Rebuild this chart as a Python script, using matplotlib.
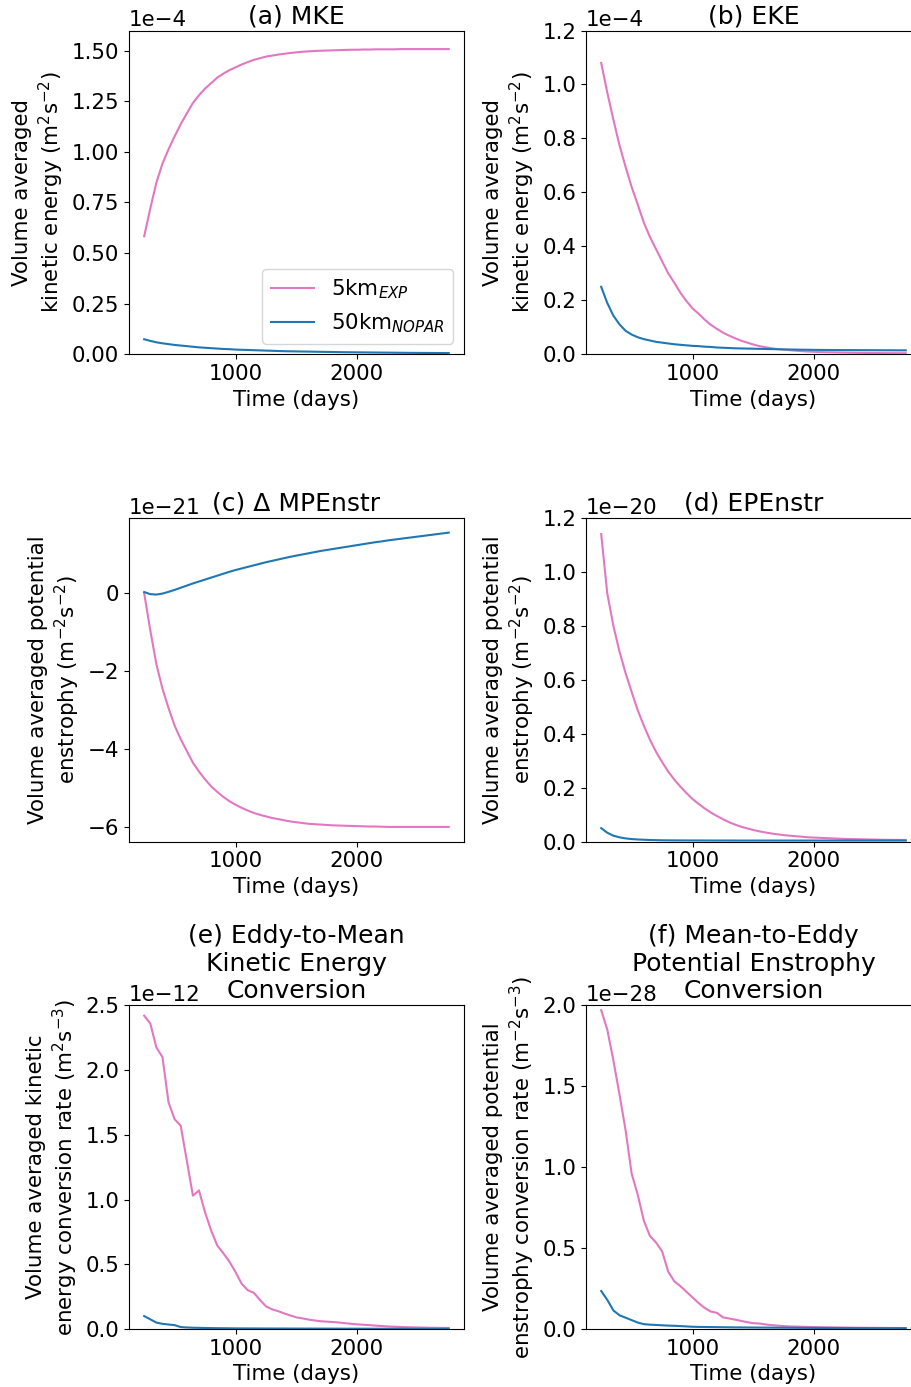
import matplotlib
matplotlib.use("Agg")
import matplotlib.pyplot as plt
import numpy as np

plt.rcParams['font.size'] = 15.4
plt.rcParams['axes.titlesize'] = 18

# model output times (days)
time = np.linspace(240, 2760, 51)

# (a) mean kinetic energy, 1e-4 m2 s-2
mke_5km = [0.583, 0.72, 0.848, 0.942, 1.013, 1.077, 1.137, 1.19, 1.242, 1.28,
           1.313, 1.34, 1.367, 1.387, 1.404, 1.418, 1.432, 1.444, 1.455, 1.463,
           1.471, 1.476, 1.481, 1.485, 1.489, 1.492, 1.495, 1.497, 1.499, 1.50,
           1.501, 1.502, 1.503, 1.504, 1.505, 1.505, 1.506, 1.506, 1.507, 1.507,
           1.507, 1.507, 1.508, 1.508, 1.508, 1.508, 1.508, 1.508, 1.508, 1.508,
           1.508]
mke_50km = [0.074, 0.066, 0.059, 0.054, 0.050, 0.046, 0.043, 0.040, 0.037, 0.034,
            0.032, 0.030, 0.028, 0.026, 0.025, 0.023, 0.022, 0.021, 0.020, 0.019,
            0.018, 0.017, 0.016, 0.015, 0.0145, 0.014, 0.0135, 0.013, 0.0125, 0.012,
            0.0115, 0.011, 0.0105, 0.010, 0.0097, 0.0094, 0.0091, 0.0088, 0.0085, 0.0082,
            0.0079, 0.0076, 0.0073, 0.0070, 0.0068, 0.0066, 0.0064, 0.0062, 0.0060, 0.0058,
            0.0056]

# (b) eddy kinetic energy, 1e-4 m2 s-2
eke_5km = [1.08, 0.97, 0.87, 0.775, 0.695, 0.62, 0.555, 0.488, 0.435, 0.39,
           0.345, 0.30, 0.265, 0.228, 0.197, 0.17, 0.15, 0.128, 0.109, 0.094,
           0.080, 0.069, 0.059, 0.050, 0.043, 0.036, 0.030, 0.026, 0.022, 0.019,
           0.017, 0.015, 0.013, 0.0115, 0.010, 0.009, 0.008, 0.0075, 0.007, 0.0065,
           0.006, 0.0056, 0.0052, 0.0049, 0.0046, 0.0044, 0.0042, 0.0040, 0.0039, 0.0038,
           0.0037]
eke_50km = [0.25, 0.19, 0.143, 0.111, 0.087, 0.073, 0.063, 0.056, 0.051, 0.046,
            0.043, 0.040, 0.037, 0.035, 0.033, 0.031, 0.030, 0.028, 0.027, 0.025,
            0.024, 0.023, 0.022, 0.0215, 0.021, 0.0205, 0.020, 0.0195, 0.019, 0.0185,
            0.018, 0.0176, 0.0172, 0.0168, 0.0165, 0.0162, 0.016, 0.0158, 0.0156, 0.0155,
            0.0154, 0.0153, 0.0152, 0.0151, 0.0150, 0.0149, 0.0148, 0.0147, 0.0146, 0.0145,
            0.0145]

# (c) change in mean potential enstrophy, 1e-21 m-2 s-2
dmpe_5km = [0.0, -0.95, -1.82, -2.45, -2.95, -3.40, -3.75, -4.05, -4.35, -4.58,
            -4.78, -4.96, -5.10, -5.23, -5.34, -5.43, -5.51, -5.58, -5.64, -5.69,
            -5.73, -5.77, -5.80, -5.83, -5.86, -5.88, -5.90, -5.92, -5.93, -5.94,
            -5.95, -5.96, -5.965, -5.97, -5.975, -5.98, -5.985, -5.99, -5.99, -5.995,
            -6.0, -6.0, -6.0, -6.0, -6.0, -6.0, -6.0, -6.0, -6.0, -6.0,
            -6.0]
dmpe_50km = [0.03, -0.025, -0.035, -0.01, 0.035, 0.085, 0.14, 0.195, 0.25, 0.30,
             0.35, 0.40, 0.45, 0.50, 0.55, 0.595, 0.635, 0.675, 0.715, 0.755,
             0.795, 0.83, 0.865, 0.90, 0.935, 0.965, 0.995, 1.025, 1.055, 1.085,
             1.11, 1.135, 1.16, 1.185, 1.21, 1.235, 1.26, 1.285, 1.31, 1.33,
             1.355, 1.375, 1.395, 1.415, 1.435, 1.455, 1.475, 1.495, 1.515, 1.535,
             1.555]

# (d) eddy potential enstrophy, 1e-20 m-2 s-2
epe_5km = [1.14, 0.92, 0.80, 0.705, 0.625, 0.555, 0.487, 0.43, 0.378, 0.333,
           0.295, 0.260, 0.230, 0.204, 0.180, 0.158, 0.140, 0.123, 0.108, 0.095,
           0.083, 0.072, 0.063, 0.055, 0.049, 0.043, 0.038, 0.034, 0.030, 0.027,
           0.024, 0.022, 0.020, 0.018, 0.016, 0.015, 0.014, 0.013, 0.012, 0.011,
           0.010, 0.0095, 0.009, 0.0085, 0.008, 0.0075, 0.007, 0.0068, 0.0065, 0.0062,
           0.006]
epe_50km = [0.05, 0.033, 0.022, 0.016, 0.012, 0.0095, 0.008, 0.007, 0.006, 0.0055,
            0.005, 0.0048, 0.0046, 0.0045, 0.0044, 0.0043, 0.0043, 0.0042, 0.0042, 0.0041,
            0.0041, 0.0041, 0.0040, 0.0040, 0.0040, 0.0040, 0.0040, 0.0040, 0.0040, 0.0040,
            0.0040, 0.0040, 0.0040, 0.0040, 0.0040, 0.0040, 0.0040, 0.0040, 0.0040, 0.0040,
            0.0040, 0.0040, 0.0040, 0.0040, 0.0040, 0.0040, 0.0040, 0.0040, 0.0040, 0.0040,
            0.0040]

# (e) eddy-to-mean KE conversion, 1e-12 m2 s-3
ke_conv_5km = [2.42, 2.36, 2.175, 2.10, 1.75, 1.62, 1.57, 1.30, 1.03, 1.07,
               0.90, 0.76, 0.645, 0.585, 0.52, 0.44, 0.35, 0.30, 0.28, 0.225,
               0.175, 0.152, 0.138, 0.12, 0.105, 0.09, 0.082, 0.073, 0.066, 0.060,
               0.057, 0.054, 0.050, 0.045, 0.040, 0.036, 0.033, 0.030, 0.026, 0.023,
               0.020, 0.018, 0.016, 0.014, 0.013, 0.012, 0.011, 0.010, 0.009, 0.0085,
               0.008]
ke_conv_50km = [0.10, 0.075, 0.05, 0.04, 0.035, 0.03, 0.015, 0.012, 0.010, 0.009,
                0.008, 0.007, 0.0065, 0.006, 0.0055, 0.005, 0.0048, 0.0046, 0.0044, 0.0042,
                0.004, 0.0039, 0.0038, 0.0037, 0.0036, 0.0035, 0.0034, 0.0033, 0.0032, 0.0031,
                0.003, 0.0029, 0.0028, 0.0027, 0.0026, 0.0025, 0.0025, 0.0024, 0.0024, 0.0023,
                0.0023, 0.0022, 0.0022, 0.0022, 0.0021, 0.0021, 0.0021, 0.002, 0.002, 0.002,
                0.002]

# (f) mean-to-eddy PE conversion, 1e-28 m-2 s-3
pe_conv_5km = [1.97, 1.85, 1.66, 1.45, 1.23, 0.96, 0.83, 0.67, 0.575, 0.535,
               0.48, 0.355, 0.295, 0.265, 0.23, 0.195, 0.16, 0.13, 0.108, 0.10,
               0.072, 0.065, 0.058, 0.050, 0.042, 0.036, 0.034, 0.028, 0.024, 0.021,
               0.018, 0.016, 0.015, 0.014, 0.013, 0.012, 0.011, 0.0105, 0.010, 0.0095,
               0.009, 0.0085, 0.008, 0.0078, 0.0075, 0.0072, 0.007, 0.0068, 0.0065, 0.0062,
               0.006]
pe_conv_50km = [0.235, 0.18, 0.115, 0.085, 0.07, 0.055, 0.04, 0.03, 0.027, 0.025,
                0.023, 0.021, 0.02, 0.018, 0.016, 0.014, 0.013, 0.0125, 0.012, 0.0115,
                0.011, 0.0105, 0.010, 0.0098, 0.0095, 0.0092, 0.009, 0.0088, 0.0085, 0.0082,
                0.008, 0.0078, 0.0075, 0.0072, 0.007, 0.0068, 0.0066, 0.0064, 0.0062, 0.006,
                0.0058, 0.0057, 0.0056, 0.0055, 0.0054, 0.0053, 0.0052, 0.0051, 0.0051, 0.005,
                0.005]

pink = "#e377c2"
blue = "#1f77b4"

fig = plt.figure(figsize=(9.12, 13.87), dpi=100)

lefts = [0.1414, 0.6425]
bottoms = [0.7446, 0.3932, 0.0418]
w, h = 0.3673, 0.2334

panels = [
    ("(a) MKE", mke_5km, mke_50km, 1e-4, (0, 1.6), [0, 0.25, 0.5, 0.75, 1.0, 1.25, 1.5],
     "Volume averaged\nkinetic energy (m$^2$s$^{-2}$)"),
    ("(b) EKE", eke_5km, eke_50km, 1e-4, (0, 1.2), [0, 0.2, 0.4, 0.6, 0.8, 1.0, 1.2],
     "Volume averaged\nkinetic energy (m$^2$s$^{-2}$)"),
    ("(c) Δ MPEnstr", dmpe_5km, dmpe_50km, 1e-21, None, [-6, -4, -2, 0],
     "Volume averaged potential\nenstrophy (m$^{-2}$s$^{-2}$)"),
    ("(d) EPEnstr", epe_5km, epe_50km, 1e-20, (0, 1.2), [0, 0.2, 0.4, 0.6, 0.8, 1.0, 1.2],
     "Volume averaged potential\nenstrophy (m$^{-2}$s$^{-2}$)"),
    ("(e) Eddy-to-Mean\nKinetic Energy\nConversion", ke_conv_5km, ke_conv_50km, 1e-12,
     (0, 2.5), [0, 0.5, 1.0, 1.5, 2.0, 2.5],
     "Volume averaged kinetic\nenergy conversion rate (m$^2$s$^{-3}$)"),
    ("(f) Mean-to-Eddy\nPotential Enstrophy\nConversion", pe_conv_5km, pe_conv_50km, 1e-28,
     (0, 2.0), [0, 0.5, 1.0, 1.5, 2.0],
     "Volume averaged potential\nenstrophy conversion rate (m$^{-2}$s$^{-3}$)"),
]

for i, (title, y1, y2, scale, ylim, yticks, ylabel) in enumerate(panels):
    ax = fig.add_axes([lefts[i % 2], bottoms[i // 2], w, h])
    ax.plot(time, np.array(y1) * scale, color=pink, label="5km$_{EXP}$")
    ax.plot(time, np.array(y2) * scale, color=blue, label="50km$_{NOPAR}$")
    if ylim is not None:
        ax.set_ylim(ylim[0] * scale, ylim[1] * scale)
    ax.set_yticks(np.array(yticks) * scale)
    ax.ticklabel_format(axis="y", style="sci", scilimits=(0, 0))
    ax.set_xticks([1000, 2000])
    ax.set_title(title, y=1.0, pad=5)
    ax.set_xlabel("Time (days)")
    ax.set_ylabel(ylabel)
    if i == 0:
        ax.legend(loc="lower right")

fig.savefig("out.png", dpi=100)
